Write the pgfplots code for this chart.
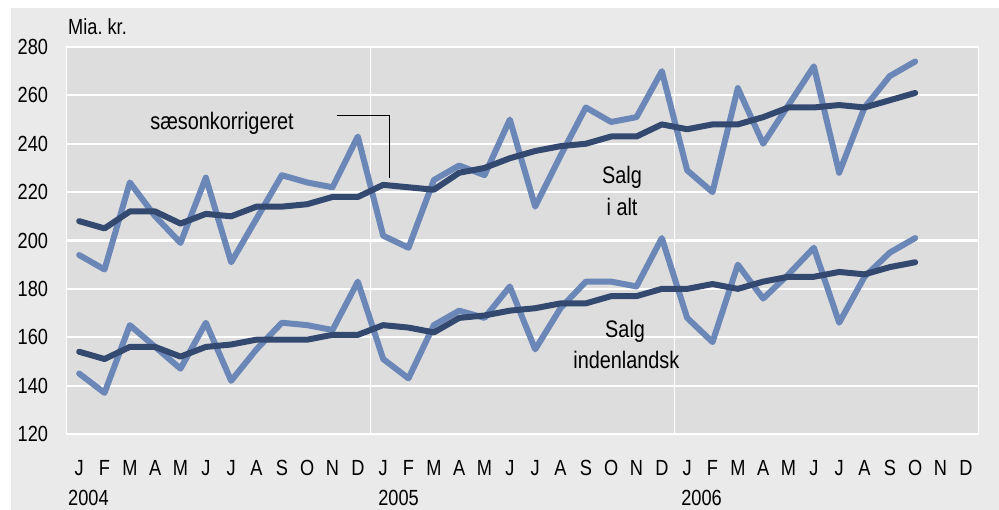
\documentclass[border=0pt]{standalone}
\usepackage{pgfplots}
\pgfplotsset{compat=1.18}
\usepackage{fontspec}
\setmainfont{Liberation Sans}[FakeStretch=0.83]
\definecolor{lightline}{RGB}{107,135,184}
\definecolor{darkline}{RGB}{52,73,112}
\definecolor{plotbg}{RGB}{221,221,221}
\definecolor{outerbg}{RGB}{234,234,234}
\begin{document}
\begin{tikzpicture}
\useasboundingbox (-66.5bp,-76bp) rectangle (932.5bp,434bp);
\fill[white] (-66.5bp,-76bp) rectangle (932.5bp,434bp);
\fill[outerbg] (-55.5bp,-76bp) rectangle (932.5bp,426bp);
\begin{axis}[
  at={(0,0)}, anchor=south west,
  scale only axis, width=912bp, height=387bp,
  xmin=-0.5, xmax=35.5, ymin=120, ymax=280,
  axis background/.style={fill=plotbg},
  axis line style={white, line width=1bp},
  major tick length=0pt,
  ytick={120,140,...,280},
  ymajorgrids, major grid style={white, line width=2.2bp},
  xtick={0,...,35},
  xticklabels={J,F,M,A,M,J,J,A,S,O,N,D,J,F,M,A,M,J,J,A,S,O,N,D,J,F,M,A,M,J,J,A,S,O,N,D},
  extra x ticks={11.5,23.5}, extra x tick labels={},
  extra x tick style={xmajorgrids, major grid style={white, line width=1bp}},
  /pgf/number format/assume math mode=true,
  yticklabel style={font=\fontsize{22}{26}\selectfont, anchor=east, inner sep=0pt, outer sep=0pt, xshift=-18.5bp},
  xticklabel style={font=\fontsize{22}{26}\selectfont, anchor=base, inner sep=0pt, outer sep=0pt, yshift=-41bp},
  clip=false,
  every axis plot/.append style={line width=6bp, line join=round, line cap=round, mark=none},
]
% Salg i alt (ukorrigeret)
\addplot[lightline] coordinates {
(0,194)(1,188)(2,224)(3,210)(4,199)(5,226)(6,191)(7,209)(8,227)(9,224)(10,222)(11,243)
(12,202)(13,197)(14,225)(15,231)(16,227)(17,250)(18,214)(19,235)(20,255)(21,249)(22,251)(23,270)
(24,229)(25,220)(26,263)(27,240)(28,256)(29,272)(30,228)(31,255)(32,268)(33,274)};
% Salg indenlandsk (ukorrigeret)
\addplot[lightline] coordinates {
(0,145)(1,137)(2,165)(3,156)(4,147)(5,166)(6,142)(7,155)(8,166)(9,165)(10,163)(11,183)
(12,151)(13,143)(14,165)(15,171)(16,168)(17,181)(18,155)(19,172)(20,183)(21,183)(22,181)(23,201)
(24,168)(25,158)(26,190)(27,176)(28,186)(29,197)(30,166)(31,185)(32,195)(33,201)};
% Salg i alt (saesonkorrigeret)
\addplot[darkline] coordinates {
(0,208)(1,205)(2,212)(3,212)(4,207)(5,211)(6,210)(7,214)(8,214)(9,215)(10,218)(11,218)
(12,223)(13,222)(14,221)(15,228)(16,230)(17,234)(18,237)(19,239)(20,240)(21,243)(22,243)(23,248)
(24,246)(25,248)(26,248)(27,251)(28,255)(29,255)(30,256)(31,255)(32,258)(33,261)};
% Salg indenlandsk (saesonkorrigeret)
\addplot[darkline] coordinates {
(0,154)(1,151)(2,156)(3,156)(4,152)(5,156)(6,157)(7,159)(8,159)(9,159)(10,161)(11,161)
(12,165)(13,164)(14,162)(15,168)(16,169)(17,171)(18,172)(19,174)(20,174)(21,177)(22,177)(23,180)
(24,180)(25,182)(26,180)(27,183)(28,185)(29,185)(30,187)(31,186)(32,189)(33,191)};
% labels
\node[anchor=base west, inner sep=0pt, font=\fontsize{22}{26}\selectfont, yshift=12bp] at (axis cs:-0.44,280) {Mia.\ kr.};
\node[anchor=base west, inner sep=0pt, font=\fontsize{22}{26}\selectfont, yshift=-71bp] at (axis cs:-0.44,120) {2004};
\node[anchor=base west, inner sep=0pt, font=\fontsize{22}{26}\selectfont, yshift=-71bp] at (axis cs:11.80,120) {2005};
\node[anchor=base west, inner sep=0pt, font=\fontsize{22}{26}\selectfont, yshift=-71bp] at (axis cs:23.76,120) {2006};
\node[anchor=base, inner sep=0pt, font=\fontsize{24}{28}\selectfont] at (axis cs:5.64,245.7) {sæsonkorrigeret};
\draw[black, line width=0.8bp] (axis cs:10.18,251.6) -- (axis cs:12.23,251.6) -- (axis cs:12.23,225.8);
\node[anchor=base, inner sep=0pt, font=\fontsize{24}{28}\selectfont] at (axis cs:21.43,223.4) {Salg};
\node[anchor=base, inner sep=0pt, font=\fontsize{24}{28}\selectfont] at (axis cs:21.43,210.5) {i alt};
\node[anchor=base, inner sep=0pt, font=\fontsize{24}{28}\selectfont] at (axis cs:21.55,160.0) {Salg};
\node[anchor=base, inner sep=0pt, font=\fontsize{24}{28}\selectfont] at (axis cs:21.6,147.2) {indenlandsk};
\end{axis}
\end{tikzpicture}
\end{document}
